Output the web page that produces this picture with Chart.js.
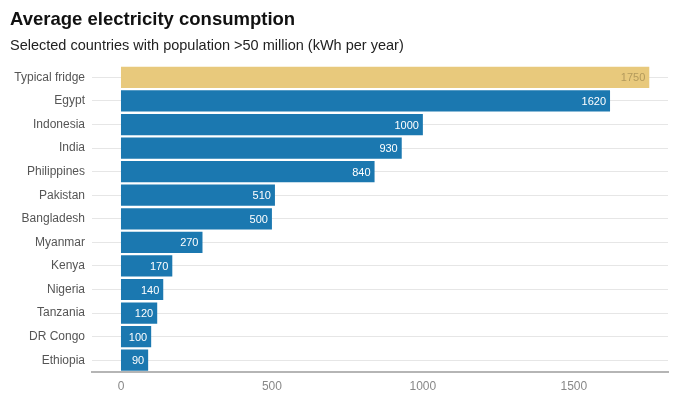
<!DOCTYPE html>
<html>
<head>
<meta charset="utf-8">
<script src="https://cdn.jsdelivr.net/npm/chart.js@4/dist/chart.umd.min.js"></script>
<style>
  html, body { margin: 0; padding: 0; background: #fff; }
  #wrap { width: 673px; height: 393px; }
</style>
</head>
<body>
<div id="wrap"><canvas id="chart" width="673" height="393"></canvas></div>
<script>
// categories and values
const countries = ['Typical fridge', 'Egypt', 'Indonesia', 'India', 'Philippines', 'Pakistan',
  'Bangladesh', 'Myanmar', 'Kenya', 'Nigeria', 'Tanzania', 'DR Congo', 'Ethiopia'];
const consumption = [1750, 1620, 1000, 930, 840, 510, 500, 270, 170, 140, 120, 100, 90];
const xTicks = [0, 500, 1000, 1500];

const BLUE = '#1b78b0';
const FRIDGE = '#e8c97c';
const FONT = '"Liberation Sans", Arial, sans-serif';
const barColors = countries.map(c => c === 'Typical fridge' ? FRIDGE : BLUE);

// draw the value inside the end of each bar
const valueLabels = {
  id: 'valueLabels',
  afterDatasetsDraw(chart) {
    const ctx = chart.ctx;
    const meta = chart.getDatasetMeta(0);
    ctx.save();
    ctx.font = '11px ' + FONT;
    ctx.textAlign = 'right';
    ctx.textBaseline = 'middle';
    meta.data.forEach((bar, i) => {
      ctx.fillStyle = countries[i] === 'Typical fridge' ? '#b39a5c' : '#ffffff';
      ctx.fillText(String(consumption[i]), bar.x - 4, bar.y + 1);
    });
    ctx.restore();
  }
};

new Chart(document.getElementById('chart'), {
  type: 'bar',
  data: {
    labels: countries,
    datasets: [{
      data: consumption,
      backgroundColor: barColors,
      borderWidth: 0,
      barPercentage: 0.9,
      categoryPercentage: 1.0
    }]
  },
  options: {
    indexAxis: 'y',
    responsive: false,
    animation: false,
    layout: { padding: { left: 10, right: 5, top: 6, bottom: 0 } },
    plugins: {
      legend: { display: false },
      tooltip: { enabled: false },
      title: {
        display: true,
        text: 'Average electricity consumption',
        align: 'start',
        color: '#111',
        font: { family: FONT, size: 18.5, weight: 'bold' },
        padding: { top: 3, bottom: 6 }
      },
      subtitle: {
        display: true,
        text: 'Selected countries with population >50 million (kWh per year)',
        align: 'start',
        color: '#222',
        font: { family: FONT, size: 14.5 },
        padding: { top: 0, bottom: 11 }
      }
    },
    scales: {
      x: {
        min: -96,
        max: 1812,
        afterBuildTicks: scale => { scale.ticks = xTicks.map(v => ({ value: v })); },
        afterFit: scale => { scale.height = 21; },
        grid: { display: false, drawTicks: false },
        border: { display: true, color: '#b5b5b5', width: 2 },
        ticks: {
          color: '#888',
          padding: 7,
          callback: v => String(v),
          font: { family: FONT, size: 12 }
        }
      },
      y: {
        afterFit: scale => { scale.width = 82; },
        grid: { offset: false, color: '#e6e6e6', drawTicks: false },
        border: { display: false },
        ticks: {
          color: '#555',
          padding: 7,
          font: { family: FONT, size: 12 }
        }
      }
    }
  },
  plugins: [valueLabels]
});
</script>
</body>
</html>
